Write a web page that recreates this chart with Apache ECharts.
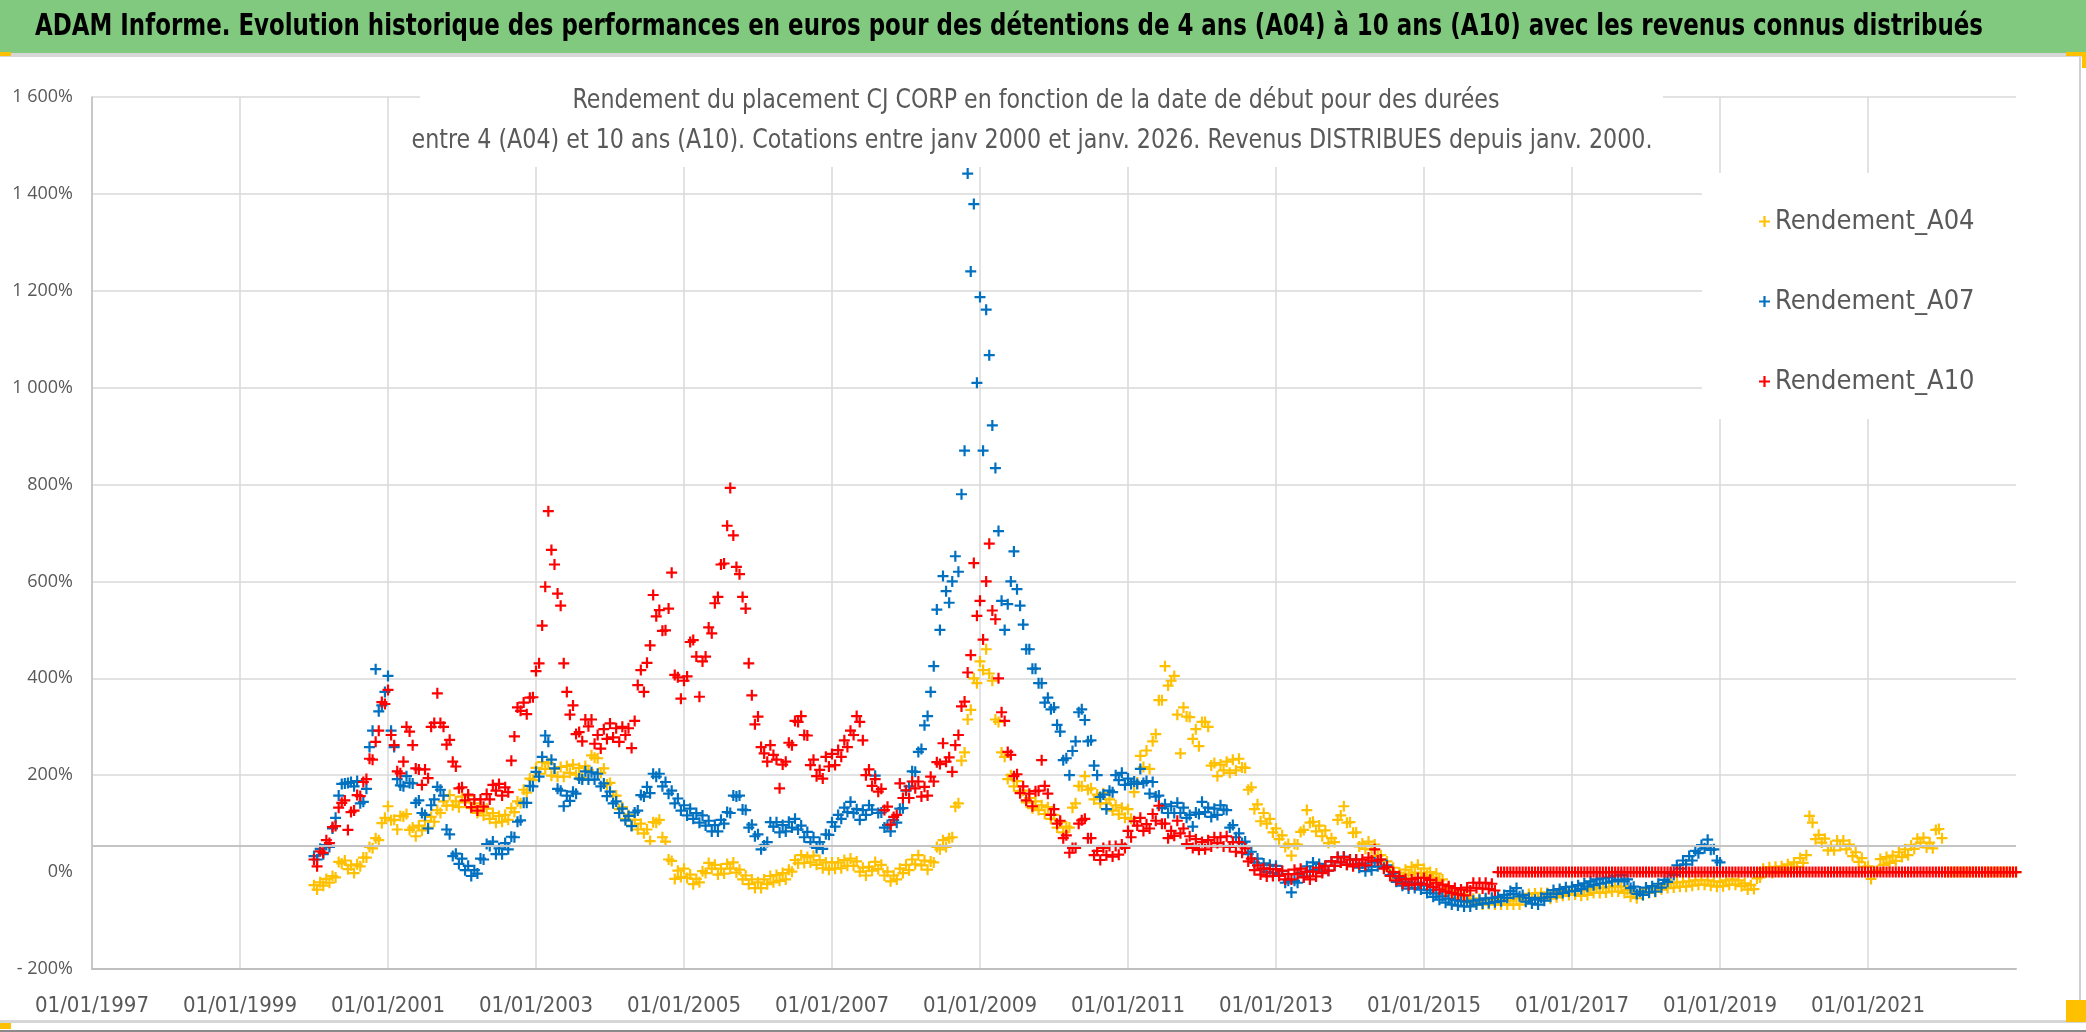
<!DOCTYPE html>
<html><head><meta charset="utf-8">
<script src="https://cdn.jsdelivr.net/npm/echarts@6/dist/echarts.min.js"></script>
<style>html,body{margin:0;padding:0;background:#fff;overflow:hidden}#c{width:2086px;height:1032px}</style>
</head><body><div id="c"></div>
<script>
// ---- texts ----
const mainTitle = "ADAM Informe. Evolution historique des performances en euros pour des détentions de 4 ans (A04) à 10 ans (A10) avec les revenus connus distribués";
const subTitle1 = "Rendement du placement CJ CORP en fonction de la date de début pour des durées";
const subTitle2 = "entre 4 (A04) et 10 ans (A10). Cotations entre janv 2000 et janv. 2026. Revenus DISTRIBUES depuis janv. 2000.";
const seriesNames = ["Rendement_A04", "Rendement_A07", "Rendement_A10"];

// ---- axis ticks ----
const xTickLabels = ["01/01/1997","01/01/1999","01/01/2001","01/01/2003","01/01/2005","01/01/2007","01/01/2009","01/01/2011","01/01/2013","01/01/2015","01/01/2017","01/01/2019","01/01/2021"];
const yTickLabels = ["- 200%","0%","200%","400%","600%","800%","1 000%","1 200%","1 400%","1 600%"];
const axisStartYear = 1997;
const dataStartYear = 2000;      // first observation (janv. 2000)
const pointsPerYear = 24;        // semi-monthly observations (upper / lower edge of the daily band)
const refLineValue = 55;         // horizontal reference line (%)

// ---- values (%), semi-monthly from 01/2000 ----
const rendementA04 = [
-27,-36,-21,-28,-14,-22,-8,-11,21,18,24,6,14,-2,16,12,30,30,52,49,70,66,101,112,
136,107,108,88,116,115,120,87,92,74,96,86,106,92,114,104,128,122,146,137,159,138,146,134,
156,144,158,132,142,122,136,117,131,110,122,102,116,104,118,108,132,124,146,142,170,164,193,190,
215,203,227,213,225,199,213,197,217,197,219,205,222,201,215,195,219,211,241,236,235,205,214,181,
184,157,158,130,134,110,118,96,108,88,100,80,88,64,103,102,108,72,63,26,23,-14,3,-10,
7,-12,-5,-25,-14,-21,2,-2,19,7,15,-5,7,-3,17,7,20,-1,5,-15,-7,-25,-15,-33,
-21,-33,-15,-25,-8,-21,-6,-18,-2,-15,5,1,25,18,35,19,31,20,34,15,25,8,20,5,
20,7,20,8,25,13,28,13,22,1,9,-7,11,3,21,6,15,-7,1,-19,-7,-15,7,-2,
15,4,26,16,35,14,24,5,22,20,52,47,66,52,70,72,135,142,230,247,315,335,400,390,
435,417,460,410,395,315,310,247,238,192,200,177,188,167,168,144,153,132,146,128,138,120,134,110,
118,92,103,82,94,92,133,142,178,177,198,170,173,150,160,142,163,142,150,127,138,119,133,112,
130,110,165,185,240,217,251,213,270,285,355,355,425,385,395,405,325,245,340,321,320,275,295,260,
310,310,300,220,225,198,222,210,228,205,232,210,234,216,215,170,175,130,140,105,122,100,110,82,
90,68,76,52,58,34,58,57,83,87,128,102,104,84,96,74,86,60,70,62,108,117,136,102,
103,81,82,53,59,48,63,47,57,33,35,13,22,3,9,-12,-1,-13,5,-5,11,-1,15,-2,
7,-7,0,-11,-3,-17,-15,-35,-31,-47,-40,-53,-45,-57,-50,-63,-55,-63,-55,-67,-57,-66,-55,-67,
-58,-67,-55,-67,-59,-67,-55,-67,-53,-59,-45,-53,-44,-55,-43,-51,-43,-55,-44,-52,-40,-49,-38,-47,
-37,-46,-38,-49,-37,-47,-35,-43,-32,-43,-33,-42,-31,-40,-29,-40,-30,-43,-37,-51,-43,-54,-41,-47,
-35,-43,-33,-41,-28,-36,-24,-33,-23,-32,-21,-30,-20,-30,-19,-28,-17,-26,-16,-26,-17,-28,-19,-30,
-20,-29,-17,-26,-15,-26,-17,-29,-23,-36,-27,-35,-13,-11,7,1,10,-2,11,1,12,4,16,7,
20,11,29,19,35,116,102,68,77,61,69,45,54,45,65,54,65,47,57,33,41,21,29,11,
12,-14,2,3,27,15,31,19,34,23,41,31,47,35,55,48,69,61,71,51,61,49,87,89,
70,0,0,0,0,0,0,0,0,0,0,0,0,0,0,0,0,0,0,0,0,0,0,0,
0];

const rendementA07 = [
33,26,48,37,56,52,90,112,158,182,183,184,186,177,188,142,145,172,258,292,419,332,344,372,
405,292,258,192,179,177,198,184,183,143,148,122,118,90,138,150,176,170,158,88,78,33,38,17,
28,4,13,-8,4,-3,28,26,58,54,63,37,49,37,60,47,73,72,104,107,143,143,178,177,
207,197,238,282,269,232,214,172,168,136,158,147,166,162,193,191,208,191,206,191,203,177,183,157,
166,142,146,122,131,107,116,95,123,127,159,156,176,163,203,197,203,177,186,162,168,142,152,127,
138,117,131,110,122,102,117,96,106,84,97,84,108,100,124,122,158,156,158,129,128,92,98,74,
78,47,55,62,103,94,103,82,97,84,104,92,110,88,96,72,83,62,72,50,62,48,78,77,
103,94,118,110,133,124,145,122,130,108,128,118,138,129,199,122,123,92,97,84,108,102,131,132,
168,177,208,207,248,254,303,322,372,425,542,500,611,580,556,600,652,620,780,870,1442,1240,1379,1010,
1187,870,1161,1067,922,834,704,560,500,553,600,662,584,550,511,460,460,420,420,390,390,350,360,336,
340,304,290,231,235,200,250,270,330,336,314,270,272,220,200,155,160,130,168,165,200,190,205,180,
193,182,187,182,213,184,188,162,186,156,158,132,140,122,136,122,143,122,133,112,118,94,123,120,
145,124,133,114,131,118,138,129,128,92,97,72,80,60,63,37,42,20,28,5,18,0,15,-2,
13,-5,2,-22,-18,-42,-18,-22,-1,-9,12,3,20,5,17,1,13,3,22,13,31,20,32,15,
26,16,26,9,18,2,12,4,20,12,26,9,14,-6,-2,-20,-12,-28,-20,-34,-22,-33,-22,-36,
-28,-43,-37,-51,-44,-57,-50,-63,-55,-67,-58,-69,-60,-71,-61,-71,-59,-67,-57,-65,-54,-64,-53,-62,
-51,-60,-47,-53,-39,-45,-33,-50,-47,-61,-53,-65,-57,-67,-53,-59,-45,-51,-37,-45,-35,-43,-31,-40,
-30,-39,-27,-35,-23,-30,-19,-27,-15,-24,-13,-22,-11,-19,-7,-16,-6,-19,-15,-33,-30,-45,-40,-47,
-32,-42,-29,-40,-24,-32,-16,-20,-2,-6,14,7,24,16,33,24,44,39,56,49,67,46,47,24,
20];

const rendementA10 = [
26,12,43,40,66,60,93,95,133,143,148,87,124,127,159,157,186,192,234,232,269,292,351,347,
376,283,262,208,204,228,300,290,262,214,212,180,212,194,300,308,369,308,300,263,273,228,218,173,
175,148,160,134,150,127,150,135,161,150,180,168,182,158,175,165,230,280,340,333,350,326,360,361,
415,431,509,589,745,665,635,575,550,431,372,325,344,285,289,270,315,301,315,265,283,255,295,275,
307,278,297,269,300,283,297,256,312,386,417,372,432,468,572,528,541,498,499,544,618,407,402,358,
395,404,475,479,445,362,435,445,505,493,555,568,635,637,715,793,695,630,615,568,544,431,365,305,
321,258,245,228,262,242,232,173,222,228,267,262,312,310,322,283,282,221,232,198,211,193,238,218,
244,221,252,238,272,258,292,283,322,310,272,200,212,178,192,166,172,128,135,98,114,118,183,153,
169,153,187,173,187,156,176,158,197,187,227,223,266,228,237,207,262,283,342,352,412,448,638,529,
560,480,600,678,540,522,400,330,312,248,242,198,202,163,177,148,162,136,167,168,231,178,162,118,
130,100,106,70,76,40,50,50,100,107,110,70,70,35,44,25,50,35,54,32,54,36,57,50,
85,72,105,96,112,85,99,90,120,106,137,100,100,70,85,75,106,80,90,58,74,50,68,46,
62,47,66,53,72,60,72,53,74,52,62,42,62,40,49,22,28,4,14,-5,8,-9,6,-8,
6,-8,3,-15,-4,-15,5,-4,7,-11,1,-15,1,-9,9,-2,13,3,22,13,31,20,31,15,
26,12,26,16,26,14,30,24,47,24,26,7,11,-8,0,-17,-8,-24,-14,-27,-15,-26,-12,-24,
-12,-26,-16,-31,-22,-36,-26,-40,-29,-43,-33,-46,-36,-48,-32,-38,-22,-33,-22,-34,-22,-35,-24,-38,
0,0,0,0,0,0,0,0,0,0,0,0,0,0,0,0,0,0,0,0,0,0,0,0,
0,0,0,0,0,0,0,0,0,0,0,0,0,0,0,0,0,0,0,0,0,0,0,0,
0,0,0,0,0,0,0,0,0,0,0,0,0,0,0,0,0,0,0,0,0,0,0,0,
0,0,0,0,0,0,0,0,0,0,0,0,0,0,0,0,0,0,0,0,0,0,0,0,
0,0,0,0,0,0,0,0,0,0,0,0,0,0,0,0,0,0,0,0,0,0,0,0,
0,0,0,0,0,0,0,0,0,0,0,0,0,0,0,0,0,0,0,0,0,0,0,0,
0,0,0,0,0,0,0,0,0,0,0,0,0,0,0,0,0,0,0,0,0,0,0,0,
0];

const seriesColors = ["#FFC000", "#0070C0", "#FF0000"];
const plusPath = "path://M4,0H6V4H10V6H6V10H4V6H0V4H4Z";
const narrow = "'DejaVu Sans Condensed','Liberation Sans Narrow','Noto Sans',sans-serif";
const grey = "#595959";

function toPoints(arr) {
  return arr.map((v, i) => [dataStartYear - axisStartYear + i / pointsPerYear, v]);
}
const allSeries = [rendementA04, rendementA07, rendementA10];

// horizontal squeeze of a text so that it spans a given width (Calibri-like narrow look)
const measureCtx = document.createElement('canvas').getContext('2d');
function fitScale(text, font, targetWidth) {
  measureCtx.font = font;
  const w = measureCtx.measureText(text).width;
  return w > 0 ? targetWidth / w : 1;
}
const titleFont = "bold 30px " + narrow;
const subFont = "27px " + narrow;

const chart = echarts.init(document.getElementById('c'), null, {renderer: 'canvas'});
const yLineColors = yTickLabels.map(t => t === "0%" ? "rgba(0,0,0,0)" : "#d9d9d9");

chart.setOption({
  animation: false,
  backgroundColor: '#ffffff',
  grid: {left: 92, right: 70, top: 97, bottom: 63, containLabel: false},
  xAxis: {
    type: 'value', min: 0, max: 26, interval: 2,
    axisLine: {show: true, onZero: false, lineStyle: {color: '#bfbfbf', width: 2}},
    axisTick: {show: false},
    axisLabel: {
      formatter: v => xTickLabels[Math.round(v / 2)] || '',
      color: grey, fontFamily: narrow, fontSize: 22, margin: 26
    },
    splitLine: {show: true, showMaxLine: false, lineStyle: {color: '#d9d9d9', width: 1.5}}
  },
  yAxis: {
    type: 'value', min: -200, max: 1600, interval: 200,
    axisLine: {show: true, onZero: false, lineStyle: {color: '#bfbfbf', width: 1.5}},
    axisTick: {show: false},
    axisLabel: {
      formatter: v => yTickLabels[Math.round((v + 200) / 200)],
      color: grey, fontFamily: "'Open Sans','Noto Sans',sans-serif", fontSize: 18, margin: 19
    },
    splitLine: {show: true, lineStyle: {color: yLineColors, width: 1.5}}
  },
  legend: {
    orient: 'vertical', left: 1702, top: 173,
    padding: [35, 44, 24, 57],
    backgroundColor: '#ffffff',
    itemGap: 53, itemWidth: 11, itemHeight: 11,
    icon: plusPath,
    textStyle: {color: grey, fontFamily: narrow, fontSize: 27},
    data: seriesNames
  },
  graphic: [
    {type: 'rect', shape: {x: 0, y: 0, width: 2086, height: 53}, style: {fill: '#80C97F'}, z: 100},
    {type: 'rect', shape: {x: 0, y: 53, width: 2086, height: 4}, style: {fill: '#d6d6d6'}, z: 100},
    {type: 'rect', shape: {x: 0, y: 52, width: 11, height: 4}, style: {fill: '#FFC000'}, z: 101},
    {type: 'text', x: 1009, y: 27, z: 102, scaleX: fitScale(mainTitle, titleFont, 1948),
      style: {text: mainTitle, fill: '#000', font: titleFont, textAlign: 'center', textVerticalAlign: 'middle'}},
    {type: 'rect', shape: {x: 420, y: 82, width: 1243, height: 85}, style: {fill: '#fff'}, z: 100},
    {type: 'text', x: 1036, y: 101, z: 102, scaleX: fitScale(subTitle1, subFont, 927),
      style: {text: subTitle1, fill: grey, font: subFont, textAlign: 'center', textVerticalAlign: 'middle'}},
    {type: 'text', x: 1032, y: 141, z: 102, scaleX: fitScale(subTitle2, subFont, 1241),
      style: {text: subTitle2, fill: grey, font: subFont, textAlign: 'center', textVerticalAlign: 'middle'}},
    {type: 'rect', shape: {x: 2079, y: 57, width: 2, height: 965}, style: {fill: '#d0d0d0'}, z: 100},
    {type: 'rect', shape: {x: 2066, y: 52, width: 20, height: 4}, style: {fill: '#FFC000'}, z: 101},
    {type: 'rect', shape: {x: 2082, y: 52, width: 4, height: 16}, style: {fill: '#FFC000'}, z: 101},
    {type: 'rect', shape: {x: 2066, y: 1000, width: 20, height: 22}, style: {fill: '#FFC000'}, z: 101},
    {type: 'rect', shape: {x: 0, y: 1020, width: 2086, height: 3}, style: {fill: '#d6d6d6'}, z: 100},
    {type: 'rect', shape: {x: 0, y: 1023, width: 11, height: 6}, style: {fill: '#FFC000'}, z: 101},
    {type: 'rect', shape: {x: 0, y: 1030, width: 2086, height: 2}, style: {fill: '#8a8a8a'}, z: 100}
  ],
  series: allSeries.map((arr, k) => ({
    name: seriesNames[k],
    type: 'scatter',
    symbol: plusPath,
    symbolSize: 11,
    itemStyle: {color: seriesColors[k], opacity: 1},
    data: toPoints(arr),
    z: 2 + k,
    markLine: k === 0 ? {
      silent: true, symbol: 'none', label: {show: false},
      lineStyle: {color: '#c4c4c4', type: 'solid', width: 2},
      data: [{yAxis: refLineValue}]
    } : undefined
  }))
});
</script>
</body></html>
